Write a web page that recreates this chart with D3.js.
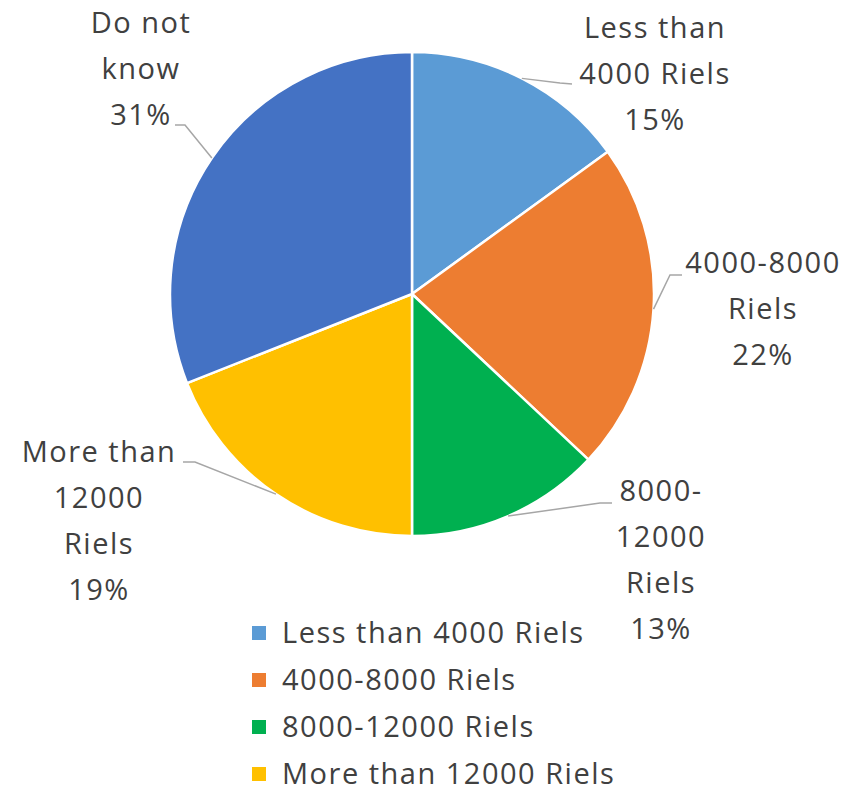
<!DOCTYPE html>
<html>
<head>
<meta charset="utf-8">
<script src="https://cdn.jsdelivr.net/npm/d3@7"></script>
<style>
  body { margin: 0; background: #fff; }
  text { font-family: "Open Sans", Lato, sans-serif; fill: #404040; letter-spacing: 1.5px; }
</style>
</head>
<body>
<script>
// data
const categories = ["Less than 4000 Riels", "4000-8000 Riels", "8000-12000 Riels", "More than 12000 Riels", "Do not know"];
const values = [15, 22, 13, 19, 31];
const colors = ["#5B9BD5", "#ED7D31", "#00B050", "#FFC000", "#4472C4"];
// data label lines (as shown on the chart)
const labelLines = [
    ["Less than", "4000 Riels", "15%"],
    ["4000-8000", "Riels", "22%"],
    ["8000-", "12000", "Riels", "13%"],
    ["More than", "12000", "Riels", "19%"],
    ["Do not", "know", "31%"]
];
const legendKeys = categories.slice(0, 4);

const W = 864, H = 789;
const cx = 412, cy = 294, radius = 242;
const fontSize = 29, lineH = 46;

// label placement: text centre x, first line baseline y, elbow point
const labelPos = [
    {x: 655, y: 38,  elbow: [560, 83],  end: [572, 84]},
    {x: 763, y: 273, elbow: [670, 275], end: [682, 275]},
    {x: 661, y: 501, elbow: [600, 503], end: [612, 503]},
    {x: 99,  y: 462, elbow: [195, 462], end: [183, 462]},
    {x: 141, y: 33,  elbow: [185, 125], end: [175, 125]}
];

const svg = d3.select("body")
    .append("svg")
    .attr("width", W)
    .attr("height", H);

const color = d3.scaleOrdinal()
    .domain(categories)
    .range(colors);

const pie = d3.pie()
    .sort(null)
    .value(d => d.value);

const arcs = pie(categories.map((c, i) => ({key: c, value: values[i]})));

const arc = d3.arc()
    .innerRadius(0)
    .outerRadius(radius);

const g = svg.append("g")
    .attr("transform", `translate(${cx},${cy})`);

g.selectAll("path.slice")
    .data(arcs)
    .join("path")
    .attr("class", "slice")
    .attr("d", arc)
    .attr("fill", d => color(d.data.key))
    .attr("stroke", "#fff")
    .attr("stroke-width", 2.5)
    .attr("stroke-linejoin", "round");

// leader lines from slice edge at mid angle
arcs.forEach((d, i) => {
    const a = (d.startAngle + d.endAngle) / 2;
    const px = cx + radius * Math.sin(a);
    const py = cy - radius * Math.cos(a);
    const p = labelPos[i];
    svg.append("polyline")
        .attr("points", `${px},${py} ${p.elbow[0]},${p.elbow[1]} ${p.end[0]},${p.end[1]}`)
        .attr("fill", "none")
        .attr("stroke", "#A6A6A6")
        .attr("stroke-width", 1.5);

    const t = svg.append("text")
        .attr("text-anchor", "middle")
        .attr("font-size", fontSize);
    labelLines[i].forEach((line, j) => {
        t.append("tspan")
            .attr("x", p.x)
            .attr("y", p.y + j * lineH)
            .text(line);
    });
});

// legend
const legendRectSize = 14;
const legend = svg.selectAll(".legend")
    .data(legendKeys)
    .join("g")
    .attr("class", "legend")
    .attr("transform", (d, i) => `translate(252, ${643 + i * 47})`);

legend.append("rect")
    .attr("y", -17)
    .attr("width", legendRectSize)
    .attr("height", legendRectSize)
    .attr("fill", d => color(d));

legend.append("text")
    .attr("x", 30)
    .attr("y", 0)
    .attr("font-size", fontSize)
    .text(d => d);
</script>
</body>
</html>
